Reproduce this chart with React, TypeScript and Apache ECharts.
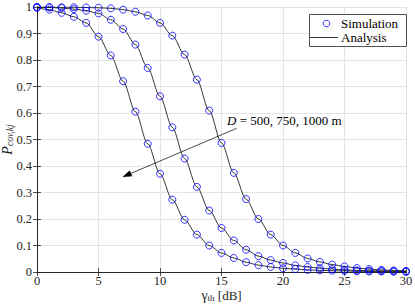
import React, { useEffect, useRef } from "react";
import * as echarts from "echarts";

const gammaDb = [0,1,2,3,4,5,6,7,8,9,10,11,12,13,14,15,16,17,18,19,20,21,22,23,24,25,26,27,28,29,30];
const curveA = [0.997,0.99,0.978,0.963,0.94,0.888,0.817,0.72,0.605,0.484,0.371,0.273,0.197,0.141,0.1,0.072,0.053,0.037,0.026,0.019,0.014,0.011,0.008,0.006,0.005,0.004,0.003,0.002,0.002,0.001,0.001];
const curveB = [0.999,0.998,0.996,0.992,0.986,0.976,0.952,0.917,0.858,0.77,0.663,0.546,0.428,0.321,0.232,0.166,0.119,0.084,0.06,0.045,0.034,0.025,0.019,0.014,0.011,0.008,0.006,0.005,0.004,0.003,0.002];
const curveC = [1,1,0.999,0.999,0.998,0.997,0.995,0.99,0.982,0.968,0.94,0.892,0.82,0.726,0.609,0.487,0.374,0.275,0.2,0.141,0.1,0.072,0.051,0.038,0.028,0.021,0.015,0.011,0.008,0.006,0.004];
const curves = [curveA, curveB, curveC];
const xTicks = [0, 5, 10, 15, 20, 25, 30];
const legendLabels = ["Simulation", "Analysis"];
const annotationText = "= 500, 750, 1000 m";

const FONT = "'Liberation Serif', 'Times New Roman', serif";
const AX = "#262626";

export default function App() {
  const ref = useRef<HTMLDivElement>(null);
  useEffect(() => {
    if (!ref.current) return;
    const chart = echarts.init(ref.current, undefined, { renderer: "svg" });
    const series: any[] = [];
    curves.forEach((c) => {
      const data = gammaDb.map((g, k) => [g, c[k]]);
      series.push({
        type: "line",
        name: "Analysis",
        data,
        smooth: 0.3,
        smoothMonotone: "x",
        symbol: "none",
        showSymbol: false,
        lineStyle: { color: "#000", width: 0.8 },
        z: 2,
      });
      series.push({
        type: "scatter",
        name: "Simulation",
        data,
        symbol: "circle",
        symbolSize: 7,
        itemStyle: { color: "rgba(0,0,0,0)", borderColor: "#0000ff", borderWidth: 0.8, opacity: 1 },
        z: 3,
      });
    });
    const axisCommon = {
      axisLine: { show: true, lineStyle: { color: AX, width: 1 } },
      axisTick: { show: true, inside: true, length: 4, lineStyle: { color: AX, width: 0.8 } },
    };
    chart.setOption({
      animation: false,
      backgroundColor: "#fff",
      textStyle: { fontFamily: FONT },
      grid: { left: 37, right: 9, top: 7, bottom: 34, containLabel: false, outerBoundsMode: "none" },
      xAxis: [
        {
          type: "value",
          min: 0,
          max: 30,
          interval: 5,
          position: "bottom",
          ...axisCommon,
          splitLine: { show: true, lineStyle: { color: "#e4e4e4", width: 1 } },
          axisLabel: {
            fontFamily: FONT, fontSize: 12.5, color: AX, margin: 3, lineHeight: 12,
            formatter: (v: number) => (xTicks.includes(v) ? String(v) : ""),
          },
          name: "{g|γ}{s|th}{t| [dB]}",
          nameLocation: "middle",
          nameGap: 17,
          nameMoveOverlap: false,
          nameTextStyle: {
            fontFamily: FONT, fontSize: 13, color: AX,
            rich: {
              g: { fontFamily: FONT, fontSize: 14, color: AX, lineHeight: 13 },
              s: { fontFamily: FONT, fontSize: 9, color: AX, verticalAlign: "bottom", lineHeight: 7 },
              t: { fontFamily: FONT, fontSize: 13, color: AX, lineHeight: 13 },
            },
          },
        },
        {
          type: "value", min: 0, max: 30, interval: 5, position: "top",
          ...axisCommon, axisLabel: { show: false }, splitLine: { show: false },
        },
      ],
      yAxis: [
        {
          type: "value",
          min: 0,
          max: 1,
          interval: 0.1,
          position: "left",
          ...axisCommon,
          splitLine: { show: true, lineStyle: { color: "#e4e4e4", width: 1 } },
          axisLabel: {
            fontFamily: FONT, fontSize: 12.5, color: AX, margin: 5,
            formatter: (v: number) => String(Math.round(v * 10) / 10),
          },
          name: "{p|P}{s|cov,kj}",
          nameLocation: "middle",
          nameRotate: 90,
          nameGap: 22,
          nameMoveOverlap: false,
          nameTextStyle: {
            fontFamily: FONT, color: AX,
            rich: {
              p: { fontFamily: FONT, fontSize: 14, fontStyle: "italic", color: AX, lineHeight: 16 },
              s: { fontFamily: FONT, fontSize: 9.5, fontStyle: "italic", color: AX, verticalAlign: "bottom", lineHeight: 9 },
            },
          },
        },
        {
          type: "value", min: 0, max: 1, interval: 0.1, position: "right",
          ...axisCommon, axisLabel: { show: false }, splitLine: { show: false },
        },
      ],
      series,
      graphic: [
        {
          type: "rect",
          shape: { x: 309.5, y: 14.5, width: 97, height: 32 },
          style: { fill: "#fff", stroke: AX, lineWidth: 0.8 },
          z: 10,
        },
        {
          type: "circle",
          shape: { cx: 326.5, cy: 23.5, r: 3.3 },
          style: { fill: "none", stroke: "#0000ff", lineWidth: 0.8 },
          z: 11,
        },
        {
          type: "line",
          shape: { x1: 310, y1: 37.5, x2: 338, y2: 37.5 },
          style: { stroke: "#000", lineWidth: 0.8 },
          z: 11,
        },
        {
          type: "text",
          x: 341, y: 23.5,
          style: { text: legendLabels[0], font: `13px ${FONT}`, fill: "#000", verticalAlign: "middle" },
          z: 11,
        },
        {
          type: "text",
          x: 341, y: 37.5,
          style: { text: legendLabels[1], font: `13px ${FONT}`, fill: "#000", verticalAlign: "middle" },
          z: 11,
        },
        {
          type: "line",
          shape: { x1: 236.7, y1: 128.3, x2: 128, y2: 174.7 },
          style: { stroke: "#000", lineWidth: 0.7 },
          z: 11,
        },
        {
          type: "polygon",
          shape: { points: [[123, 176.8], [131.9, 176.1], [129.6, 170.8]] },
          style: { fill: "#000", stroke: "#000", lineWidth: 0.5 },
          z: 11,
        },
        {
          type: "text",
          x: 227, y: 120.5,
          style: {
            text: "{i|D} " + annotationText,
            verticalAlign: "middle",
            rich: {
              i: { fontFamily: FONT, fontSize: 13, fontStyle: "italic", fill: "#000" },
            },
            font: `13px ${FONT}`,
            fill: "#000",
          },
          z: 11,
        },
      ],
    });
    return () => chart.dispose();
  }, []);
  return <div ref={ref} style={{ width: 415, height: 306, position: "absolute", left: 0, top: 0 }} />;
}
